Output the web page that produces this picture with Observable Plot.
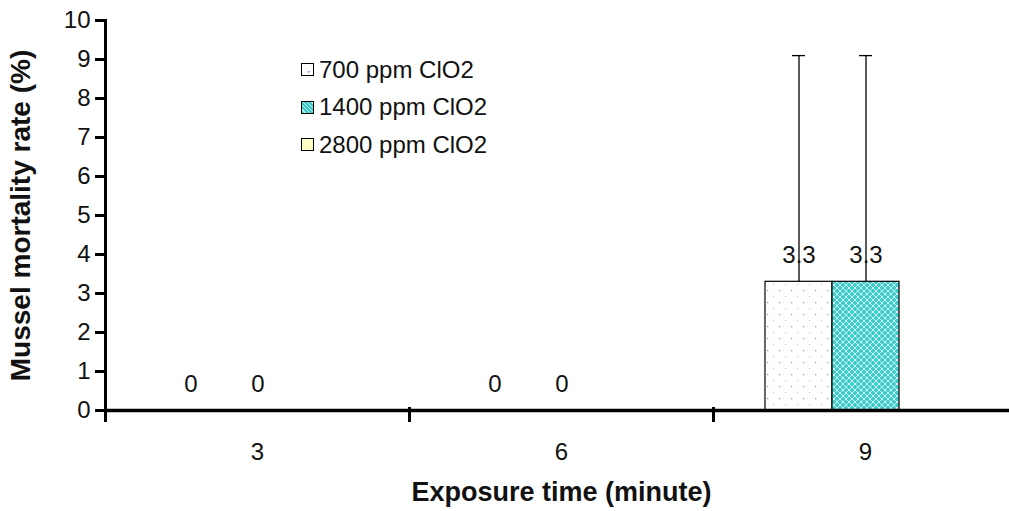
<!DOCTYPE html>
<html><head><meta charset="utf-8">
<script src="https://cdn.jsdelivr.net/npm/d3@7"></script>
<script src="https://cdn.jsdelivr.net/npm/@observablehq/plot@0.6"></script>
<style>
body{margin:0;background:#fff;}
#wrap{position:relative;width:1009px;height:511px;overflow:hidden;font-family:Arial,"Liberation Sans",sans-serif;}
#legend{position:absolute;left:301px;top:51px;font-size:24px;color:#111;}
#legend .row{display:flex;align-items:center;height:37.5px;}
#legend .sw{width:11px;height:11px;border:1px solid #000;margin-right:5px;}
#chart svg text{font-size:24px;}
#chart g[aria-label="y-axis label"] text{font-weight:bold;font-size:28px;}
#chart g[aria-label="fx-axis label"] text{font-weight:bold;font-size:27px;}
</style></head>
<body><div id="wrap"><div id="chart"></div><div id="legend"></div></div>
<script>
const times = ["3", "6", "9"];
const series = ["700 ppm ClO2", "1400 ppm ClO2", "2800 ppm ClO2"];
const mean700 = [0, 0, 3.3];
const mean1400 = [0, 0, 3.3];
const mean2800 = [null, null, null];
const err700 = [0, 0, 5.8];
const err1400 = [0, 0, 5.8];
const err2800 = [null, null, null];
const yTicks = [0,1,2,3,4,5,6,7,8,9,10];
const fills = ["url(#p700)", "url(#p1400)", "url(#p2800)"];

const means = [mean700, mean1400, mean2800];
const errs = [err700, err1400, err2800];
const data = [];
series.forEach((s, si) => times.forEach((t, ti) => {
  if (means[si][ti] != null) data.push({time: t, series: s, value: means[si][ti], err: errs[si][ti]});
}));
const withBar = data.filter(d => d.value > 0);

const plot = Plot.plot({
  width: 1009, height: 511,
  marginLeft: 104, marginRight: -8, marginTop: 20, marginBottom: 101,
  style: {fontFamily: "Arial, 'Liberation Sans', sans-serif", fontSize: "24px", color: "#111"},
  fx: {domain: times, padding: 0, axis: "bottom", tickSize: 0, tickPadding: 32,
       label: "Exposure time (minute)", labelAnchor: "center", labelOffset: 90, labelArrow: "none"},
  x: {domain: series, axis: null, paddingInner: 0, paddingOuter: 0.74},
  y: {domain: [0, 10], ticks: yTicks, tickSize: 10, tickPadding: 5, line: true,
      label: "Mussel mortality rate (%)", labelAnchor: "center", labelOffset: 95, labelArrow: "none"},
  color: {domain: series, range: fills},
  marks: [
    Plot.barY(withBar, {fx: "time", x: "series", y: "value", fill: "series", stroke: "#000", strokeWidth: 1.2}),
    Plot.ruleX(withBar, {fx: "time", x: "series", y1: "value", y2: d => d.value + d.err, stroke: "#000", strokeWidth: 1.3}),
    Plot.tickY(withBar, {fx: "time", x: "series", y: d => d.value + d.err, stroke: "#000", strokeWidth: 1.3, insetLeft: 27, insetRight: 27}),
    Plot.text(data, {fx: "time", x: "series", y: "value", text: d => String(d.value), dy: -26, fontSize: 24, fill: "#111"}),
    Plot.ruleY([0], {stroke: "#000", strokeWidth: 3.5}),
    Plot.frame({anchor: "left", insetTop: 388, insetBottom: -10, stroke: "#000", strokeWidth: 3})
  ]
});
document.getElementById("chart").appendChild(plot);

const svgEl = plot.tagName.toLowerCase() === "svg" ? plot : plot.querySelector("svg");
const svg = d3.select(svgEl);
svgEl.querySelectorAll("[aria-label='y-axis tick'], [aria-label='y-axis tick'] *, [aria-label='frame'], [aria-label='frame'] *")
  .forEach(el => { el.style.strokeWidth = "3px"; el.style.stroke = "#000"; });

const defs = svg.insert("defs", ":first-child");
const p1 = defs.append("pattern").attr("id", "p700").attr("patternUnits", "userSpaceOnUse").attr("width", 12).attr("height", 12);
p1.append("rect").attr("width", 12).attr("height", 12).attr("fill", "#fff");
p1.append("rect").attr("x", 2).attr("y", 2).attr("width", 1.2).attr("height", 1.2).attr("fill", "#8a8aff");
p1.append("rect").attr("x", 8).attr("y", 8).attr("width", 1.2).attr("height", 1.2).attr("fill", "#c8c8ff");
const p2 = defs.append("pattern").attr("id", "p1400").attr("patternUnits", "userSpaceOnUse").attr("width", 6).attr("height", 6);
p2.append("rect").attr("width", 6).attr("height", 6).attr("fill", "#3ccccc");
p2.append("path").attr("d", "M0 0L6 6M6 0L0 6").attr("stroke", "#cdf3f3").attr("stroke-width", 1);
const p3 = defs.append("pattern").attr("id", "p2800").attr("patternUnits", "userSpaceOnUse").attr("width", 6).attr("height", 6);
p3.append("rect").attr("width", 6).attr("height", 6).attr("fill", "#ffffc4");

const swatchStyles = ["background:#fff radial-gradient(circle at 60% 70%, #8a8aff 0.8px, transparent 1.2px)",
  "background:repeating-linear-gradient(45deg,#3ccccc 0 2px,#c2eeee 2px 3px)",
  "background:#ffffc4"];
const legend = d3.select("#legend");
series.forEach((s, i) => {
  const row = legend.append("div").attr("class", "row");
  row.append("div").attr("class", "sw").attr("style", swatchStyles[i]);
  row.append("span").text(s);
});
</script></body></html>
